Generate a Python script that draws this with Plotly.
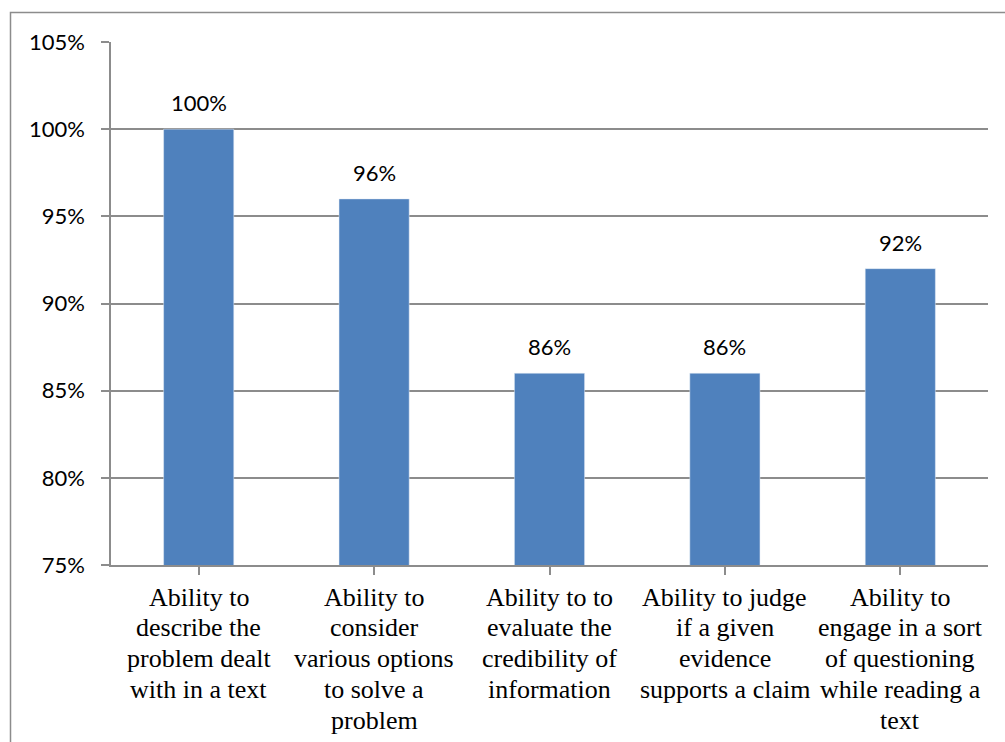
import plotly.graph_objects as go

categories = [
    "Ability to<br>describe the<br>problem dealt<br>with in a text",
    "Ability to<br>consider<br>various options<br>to solve a<br>problem",
    "Ability to to<br>evaluate the<br>credibility of<br>information",
    "Ability to judge<br>if a given<br>evidence<br>supports a claim",
    "Ability to<br>engage in a sort<br>of questioning<br>while reading a<br>text",
]
values = [1.00, 0.96, 0.86, 0.86, 0.92]
value_labels = ["100%", "96%", "86%", "86%", "92%"]

BLUE = "#4F81BD"
GRID = "#8C8C8C"
SANS = "Lato"
SERIF = "Liberation Serif"

fig = go.Figure()
fig.add_trace(go.Bar(
    x=list(range(len(categories))), y=values, marker_color=BLUE, width=0.4,
    hoverinfo="skip",
))
for i, (v, t) in enumerate(zip(values, value_labels)):
    fig.add_annotation(x=i, y=v, text=t, showarrow=False, yanchor="bottom",
                       yshift=11, font=dict(family=SANS, size=22, color="#000"))

# category labels, one annotation per text line for Excel-like line spacing
for i, cat in enumerate(categories):
    for k, line in enumerate(cat.split("<br>")):
        fig.add_annotation(x=i, y=0.75, text=line, showarrow=False,
                           yanchor="middle", xanchor="center",
                           yshift=-(32 + k * 30.75),
                           font=dict(family=SERIF, size=26, color="#000"))

W, H = 1005, 742
L, R, T, B = 111, 17, 42, 177
pw, ph = W - L - R, H - T - B

def px(xp):
    return (xp - L) / pw

def py(yp):
    return (H - B - yp) / ph

fig.add_shape(type="rect", xref="paper", yref="paper",
              x0=px(10.5), x1=px(1015), y0=py(760), y1=py(12.5),
              line=dict(color="#8C8C8C", width=1.5), fillcolor="rgba(0,0,0,0)", layer="below")

fig.update_layout(
    width=W, height=H,
    margin=dict(l=L, r=R, t=T, b=B, pad=0),
    paper_bgcolor="white", plot_bgcolor="white",
    showlegend=False, bargap=0.6,
    xaxis=dict(
        tickmode="array", tickvals=list(range(len(categories))),
        showticklabels=False,
        range=[-0.5, len(categories) - 0.5],
        showgrid=False, showline=True, linecolor=GRID, linewidth=1.5,
        ticks="outside", ticklen=8, tickcolor=GRID, tickwidth=1.5,
        tickson="boundaries", fixedrange=True,
    ),
    yaxis=dict(
        range=[0.75, 1.05], dtick=0.05, tick0=0.75, tickformat=".0%",
        showgrid=True, gridcolor=GRID, gridwidth=1.5,
        showline=True, linecolor=GRID, linewidth=1.5,
        ticks="outside", ticklen=8, tickcolor=GRID, tickwidth=1.5,
        tickfont=dict(family=SANS, size=22, color="#000"),
        ticklabelstandoff=12, zeroline=False, fixedrange=True,
    ),
)

fig.write_html("out.html", config={"displayModeBar": False},
               post_script="document.body.style.margin='0';")
